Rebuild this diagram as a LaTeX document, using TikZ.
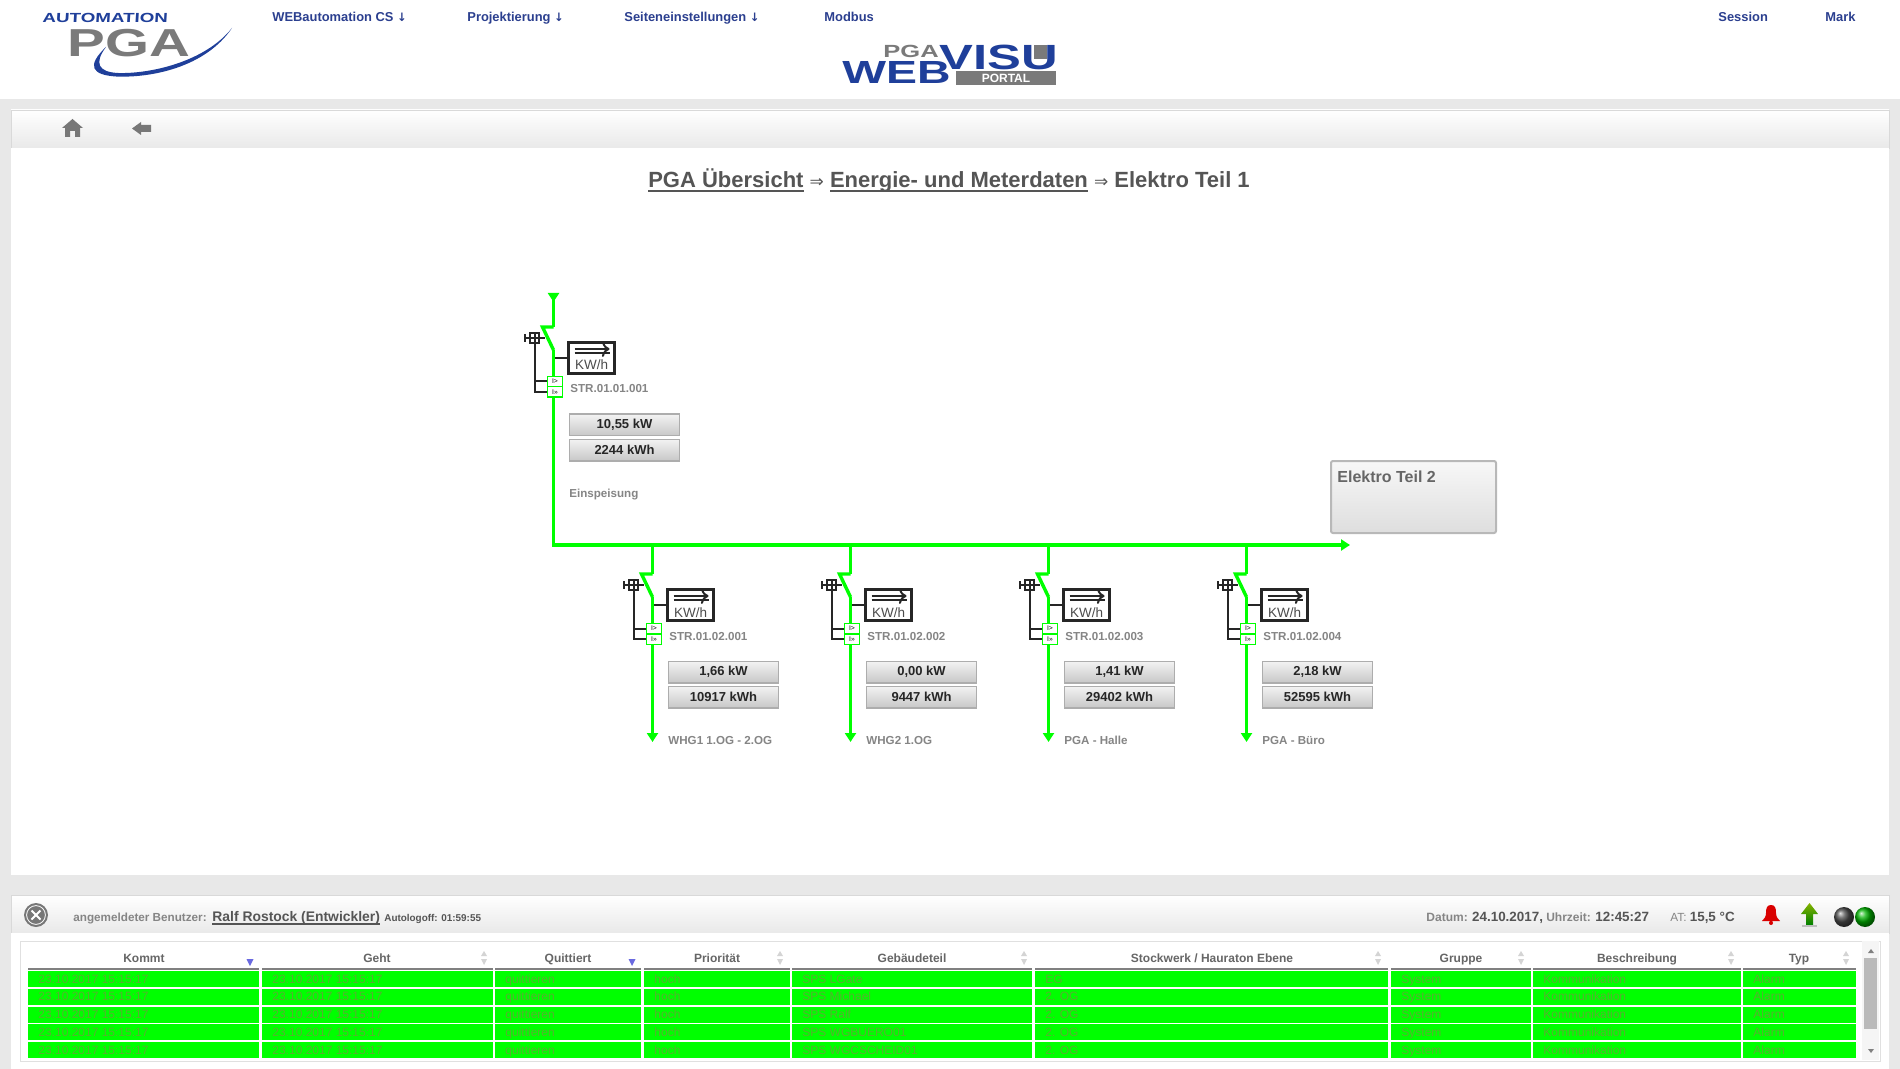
\documentclass[tikz,border=0pt]{standalone}
\usepackage{fontspec}
\usetikzlibrary{arrows.meta,positioning}
\setmainfont{Liberation Sans}
\newfontfamily\wideface[FakeStretch=1.45]{Liberation Sans}
\newfontfamily\slantface[FakeStretch=1.42,FakeSlant=0.06]{Liberation Sans}
\newfontfamily\symface{DejaVu Sans}
\newcommand{\thickul}[1]{\leavevmode\setbox0\hbox{#1}\rlap{\vrule width\wd0 height -1.0pt depth 1.8pt}\box0\relax}
\pgfdeclarelayer{top}
\pgfsetlayers{main,top}
\definecolor{feedgreen}{HTML}{00FF00}
\definecolor{navytext}{HTML}{2B3F8F}
\definecolor{logoblue}{HTML}{1F3F9A}
\definecolor{logogray}{HTML}{7A7A7A}
\definecolor{panelgray}{HTML}{E8E8E8}
\definecolor{barlow}{HTML}{E9E9E9}
\definecolor{titlegray}{HTML}{555555}
\definecolor{labelgray}{HTML}{858585}
\definecolor{iconalt}{HTML}{777777}
\definecolor{rowtext}{HTML}{58B030}
\definecolor{headtext}{HTML}{666666}
\definecolor{sortblue}{HTML}{6A6AE0}
\definecolor{sortgray}{HTML}{D4D4D4}
\tikzset{
    txt/.style={inner sep=0pt,anchor=base west},
    menuitem/.style={txt,font=\fontsize{6.45}{8}\selectfont\bfseries,text=navytext},
    feedline/.style={draw=feedgreen,line width=1.7pt},
    ctrlline/.style={draw=black!85,line width=1pt},
    meterbox/.style={draw=black!85,fill=white,line width=1.1pt,minimum width=23pt,minimum height=15.5pt,inner sep=0pt},
    tripbox/.style={draw=feedgreen,fill=white,line width=0.7pt,minimum width=7.5pt,minimum height=5.2pt,inner sep=0pt,font=\fontsize{3.4}{4}\selectfont},
    gripbox/.style={draw=black!85,line width=1pt,minimum width=4.5pt,minimum height=5pt,inner sep=0pt},
    valbox/.style={draw=black!32,line width=0.7pt,top color=black!5,bottom color=black!22,minimum width=55pt,minimum height=10.8pt,inner sep=0pt,font=\fontsize{6.5}{8}\selectfont\bfseries,text=black!85},
    taglabel/.style={txt,font=\fontsize{5.8}{7}\selectfont\bfseries,text=labelgray},
    headlabel/.style={inner sep=0pt,anchor=base,font=\fontsize{6}{7}\selectfont\bfseries,text=headtext},
    celllabel/.style={txt,font=\fontsize{6}{7}\selectfont,text=rowtext},
    statuslabel/.style={txt,text=labelgray}
}
% one switch unit: name, x, y of the stub, tag, power, energy, label
\newcommand{\feederunit}[7]{
    \begin{scope}[shift={(#2,#3)}]
        \coordinate (#1hinge) at (0,0);
        \coordinate (#1stub) at (-11,0);
        \coordinate (#1low) at (0,23);
        \node[gripbox] (#1grip) at (-19,11) {};
        \draw[ctrlline] (-29,7) -- (-29,15);
        \draw[ctrlline] (-29,11) -- (-9,11);
        \draw[ctrlline] (-19,6) -- (-19,16);
        \node[meterbox] (#1meter) at (38,31) {};
        \draw[ctrlline,->] (21,22) -- (56,22);
        \draw[ctrlline] (21,26) -- (56,26);
        \node[txt,anchor=base,font=\fontsize{6.75}{8}\selectfont,text=black!70] (#1unit) at (38,43) {KW/h};
        \draw[ctrlline] (#1meter.west -| #1low) -- (#1meter);
        \begin{pgfonlayer}{top}
            \node[tripbox] (#1trip) at (1.5,54.5) {I>};
            \node[tripbox] (#1over) at (1.5,65) {I»};
        \end{pgfonlayer}
        \draw[ctrlline] (#1grip) |- (#1trip);
        \draw[ctrlline] (#1grip) |- (#1over);
        \draw[feedline] (#1hinge) -- (#1stub) -- (#1low);
        \node[taglabel] (#1tag) at (16.5,66) {#4};
        \node[valbox] (#1power) at (71,98) {#5};
        \node[valbox] (#1energy) at (71,123) {#6};
        \node[taglabel] (#1text) at (15.5,170) {#7};
    \end{scope}
}
\begin{document}
\begin{tikzpicture}[x=0.5pt,y=-0.5pt]
    \useasboundingbox (0,0) rectangle (1900,1069);
    % page areas
    \fill[white] (0,0) rectangle (1900,1069);
    \fill[panelgray] (0,99) rectangle (1900,1069);
    \draw[top color=white,bottom color=barlow,draw=black!15] (11,110) rectangle (1889,148);
    \fill[white] (11,148) rectangle (1889,875);
    \draw[top color=white,bottom color=barlow,draw=black!15] (11,895) rectangle (1889,933);
    \fill[white] (11,933) rectangle (1889,1069);

    % logo left
    \node[txt,font=\slantface\fontsize{6.6}{8}\selectfont\bfseries,text=logoblue] (autologo) at (42,23) {AUTOMATION};
    \node[txt,font=\wideface\fontsize{19.5}{20}\selectfont\bfseries,text=logogray] (pgalogo) at (67,57) {PGA};
    \fill[logoblue] (232,28) .. controls (205,68) and (150,78) .. (116,76.5) .. controls (92,75) and (86,66) .. (106,47) .. controls (94,63) and (98,72) .. (118,73) .. controls (150,74) and (205,62) .. (232,28) -- cycle;

    % menu
    \node[menuitem] (menucs) at (272,22) {WEBautomation CS {\symface\fontsize{5.8}{7}\selectfont↓}};
    \node[menuitem] (menuproj) at (467,22) {Projektierung {\symface\fontsize{5.8}{7}\selectfont↓}};
    \node[menuitem] (menuset) at (624,22) {Seiteneinstellungen {\symface\fontsize{5.8}{7}\selectfont↓}};
    \node[menuitem] (menumod) at (824,22) {Modbus};
    \node[menuitem] (menusess) at (1718,22) {Session};
    \node[menuitem] (menumark) at (1825,22) {Mark};

    % logo centre
    \node[txt,font=\wideface\fontsize{8.8}{9}\selectfont\bfseries,text=logogray] (pgasmall) at (883,58) {PGA};
    \node[txt,font=\wideface\fontsize{16}{17}\selectfont\bfseries,text=logoblue] (weblogo) at (842,84) {WEB};
    \node[txt,font=\wideface\fontsize{17.5}{18}\selectfont\bfseries,text=logoblue] (visulogo) at (939,70) {VISU};
    \fill[logogray] (1034,45) rectangle (1047,59);
    \node[fill=logogray,text=white,font=\fontsize{6}{7}\selectfont\bfseries,minimum width=50pt,minimum height=7pt,inner sep=0pt] (portallogo) at (1006,78) {PORTAL};

    % toolbar icons
    \fill[iconalt] (72.5,119) -- (83,128) -- (80,128) -- (80,137) -- (75,137) -- (75,131) -- (70,131) -- (70,137) -- (65,137) -- (65,128) -- (62,128) -- cycle;
    \fill[iconalt] (132,128.5) -- (141,122) -- (141,125) -- (151,125) -- (151,132) -- (141,132) -- (141,135) -- cycle;

    % headline
    \node[inner sep=0pt,anchor=base,font=\fontsize{11}{13}\selectfont\bfseries,text=titlegray] (headline) at (949,188)
        {\thickul{PGA Übersicht} {\symface\mdseries\fontsize{8.5}{9}\selectfont ⇒} \thickul{Energie- und Meterdaten} {\symface\mdseries\fontsize{8.5}{9}\selectfont ⇒} Elektro Teil 1};

    % units
    \feederunit{main}{553.5}{327}{STR.01.01.001}{10,55 kW}{2244 kWh}{Einspeisung}
    \feederunit{whga}{652.5}{574}{STR.01.02.001}{1,66 kW}{10917 kWh}{WHG1 1.OG - 2.OG}
    \feederunit{whgb}{850.5}{574}{STR.01.02.002}{0,00 kW}{9447 kWh}{WHG2 1.OG}
    \feederunit{halle}{1048.5}{574}{STR.01.02.003}{1,41 kW}{29402 kWh}{PGA - Halle}
    \feederunit{buero}{1246.5}{574}{STR.01.02.004}{2,18 kW}{52595 kWh}{PGA - Büro}

    % feed lines
    \coordinate (feedtop) at (553.5,293);
    \coordinate (busend) at (1350,545);
    \draw[feedline,{Triangle[reversed,width=5.5pt,length=4.5pt]}-] (feedtop) -- (mainhinge);
    \draw[feedline,-{Triangle[width=5.5pt,length=4.5pt]}] (mainlow) -- (mainlow |- busend) -- (busend);
    \foreach \unit in {whga,whgb,halle,buero}{
        \draw[feedline] (\unit hinge |- busend) -- (\unit hinge);
        \draw[feedline,-{Triangle[width=5.5pt,length=4.5pt]}] (\unit low) -- ++(0,145);
    }

    % link to part two
    \draw[rounded corners=1pt,draw=black!28,line width=1pt,top color=black!3,bottom color=black!13] (1331,461) rectangle (1496,533);
    \node[txt,font=\fontsize{8}{10}\selectfont\bfseries,text=black!60] (nextpart) at (1337,482) {Elektro Teil 2};

    % status bar
    \node[circle,fill=iconalt,minimum size=12pt,inner sep=0pt] (closebtn) at (36,915) {};
    \draw[white,line width=0.4pt] (closebtn) circle (4.7pt);
    \draw[white,line width=1pt] (31.5,910.5) -- (40.5,919.5) (40.5,910.5) -- (31.5,919.5);
    \node[statuslabel,font=\fontsize{5.85}{7}\selectfont\bfseries] (userlabel) at (73,921) {angemeldeter Benutzer:};
    \node[txt,font=\fontsize{6.95}{8}\selectfont\bfseries,text=titlegray] (username) at (212,921) {\thickul{Ralf Rostock (Entwickler)}};
    \node[txt,font=\fontsize{4.95}{6}\selectfont\bfseries,text=titlegray] (autologoff) at (384,921) {Autologoff: 01:59:55};
    \node[statuslabel,font=\fontsize{6}{7}\selectfont\bfseries] (datelabel) at (1426,921) {Datum: {\fontsize{6.7}{7}\selectfont\color{titlegray}24.10.2017,} Uhrzeit: {\fontsize{6.7}{7}\selectfont\color{titlegray}12:45:27}};
    \node[statuslabel,font=\fontsize{5.9}{7}\selectfont] (templabel) at (1670,921) {AT: {\fontsize{6.7}{7}\selectfont\bfseries\color{titlegray}15,5 °C}};
    \fill[red!85!black] (1771,905) .. controls (1767,905) and (1766,908) .. (1766,913) .. controls (1766,917) and (1764,919) .. (1762,921) -- (1780,921) .. controls (1778,919) and (1776,917) .. (1776,913) .. controls (1776,908) and (1775,905) .. (1771,905) -- cycle (1771,923) circle (1pt);
    \shade[top color=lime!70!black,bottom color=green!50!black] (1809.5,903) -- (1818,914) -- (1813,914) -- (1813,925) -- (1806,925) -- (1806,914) -- (1801,914) -- cycle;
    \fill[black!25] (1802,925) rectangle (1817,927);
    \shade[ball color=black!70] (1844,917) circle (5pt);
    \shade[ball color=green!70!black] (1865,917) circle (5pt);

    % table
    \draw[draw=black!12,fill=white] (20,941) rectangle (1880,1061);
    \foreach \hl/\hr/\hx/\htxt [count=\h] in {28/259/144/Kommt,262/493/377/Geht,495/641/568/Quittiert,644/790/717/Priorität,792/1032/912/Gebäudeteil,1035/1388/1212/{Stockwerk / Hauraton Ebene},1391/1531/1461/Gruppe,1533/1741/1637/Beschreibung,1743/1856/1799/Typ}{
        \node[headlabel] (head\h) at (\hx,962) {\htxt};
        \fill[black!50] (\hl,967.5) rectangle (\hr,969.5);
    }
    \foreach \sx in {484,780,1024,1378,1521,1731,1846}{
        \fill[sortgray] (\sx-3,956) -- (\sx,951) -- (\sx+3,956) -- cycle (\sx-3,959) -- (\sx,965) -- (\sx+3,959) -- cycle;
    }
    \foreach \sx in {250,632}{
        \fill[sortblue] (\sx-3.5,959) -- (\sx+3.5,959) -- (\sx,966) -- cycle;
    }
    \foreach \rowtop/\gebaeude/\etage [count=\r] in {971/SPS LGate/EG,988.8/SPS Michael/2. OG,1006.6/SPS Ralf/2. OG,1024.4/SPS WGBUERO01/2. OG,1042.2/SPS WGCSCHEID01/2. OG}{
        \foreach \cl/\cr/\celltxt [count=\c] in {28/259/23.10.2017 15:15:17,262/493/23.10.2017 15:15:17,495/641/quittieren,644/790/hoch,792/1032/\gebaeude,1035/1388/\etage,1391/1531/System,1533/1741/Kommunikation,1743/1856/Alarm}{
            \fill[feedgreen] (\cl,\rowtop) rectangle (\cr,\rowtop+16);
            \node[celllabel] (cell\r-\c) at (\cl+10,\rowtop+12) {\celltxt};
        }
    }
    % scroll bar
    \fill[black!4] (1862,941) rectangle (1879,1060);
    \fill[black!27] (1864,958) rectangle (1877,1029);
    \fill[black!50] (1868,953) -- (1871,949) -- (1874,953) -- cycle;
    \fill[black!50] (1868,1049) -- (1874,1049) -- (1871,1053) -- cycle;
\end{tikzpicture}
\end{document}
